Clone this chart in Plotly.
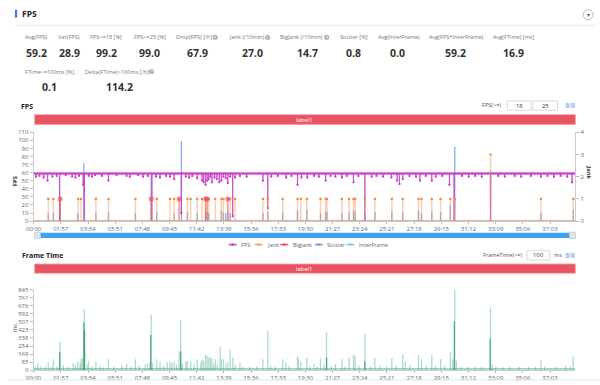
import plotly.graph_objects as go

W, H = 600, 385
FONT = "Open Sans"

# ---------------- data ----------------
DURATION = 2332          # seconds covered by the time axis
FPS_BASE = 59            # steady FPS level between dips
FT_AVG = 16.9            # Avg(FTime) [ms] – the dense baseline of frame times

metric_labels_row1 = ["Avg(FPS)", "Var(FPS)", "FPS>=18 [%]", "FPS>=25 [%]", "Drop(FPS) [/h]",
                      "Jank (/10min)", "BigJank (/10min)", "Stutter [%]", "Avg(InterFrame)",
                      "Avg(FPS+InterFrame)", "Avg(FTime) [ms]"]
metric_values_row1 = ["59.2", "28.9", "99.2", "99.0", "67.9", "27.0", "14.7", "0.8", "0.0", "59.2", "16.9"]
metric_labels_row2 = ["FTime>=100ms [%]", "Delta(FTime)>100ms [/h]"]
metric_values_row2 = ["0.1", "114.2"]

time_tick_secs = [0, 117, 234, 351, 468, 585, 702, 819, 936, 1053, 1170, 1287, 1404, 1521, 1638,
                  1755, 1872, 1989, 2106, 2223]
time_tick_labels = ["00:00", "01:57", "03:54", "05:51", "07:48", "09:45", "11:42", "13:39", "15:36",
                    "17:33", "19:30", "21:27", "23:24", "25:21", "27:18", "29:15", "31:12", "33:09",
                    "35:06", "37:03"]
fps_ticks = [0, 10, 20, 30, 40, 50, 60, 70, 80, 90, 100, 110]
jank_ticks = [0, 1, 2, 3, 4]
ft_tick_vals = [0, 84.5, 169, 253.5, 338, 422.5, 507, 591.5, 676, 760.5, 845]
ft_tick_text = ["0", "85", "169", "254", "338", "423", "507", "592", "676", "761", "845"]

fps_dip_t = [10, 25, 43, 60, 81, 99, 112, 138, 166, 180, 195, 213, 218, 237, 251, 265, 294, 322, 357,
             400, 414, 449, 471, 492, 509, 527, 544, 570, 587, 605, 636, 655, 669, 683, 704, 725, 732,
             740, 747, 754, 761, 768, 779, 789, 799, 808, 817, 827, 836, 846, 857, 867, 888, 917, 987,
             1008, 1023, 1051, 1087, 1110, 1136, 1153, 1178, 1207, 1228, 1257, 1278, 1299, 1327, 1348,
             1377, 1398, 1426, 1455, 1476, 1504, 1540, 1565, 1575, 1589, 1618, 1646, 1663, 1688, 1714,
             1731, 1759, 1790, 1810, 1844, 1873, 1901, 1929, 1967, 2000, 2028, 2071, 2099, 2141, 2184,
             2212, 2240, 2269, 2297, 2318]
fps_dip_v = [55, 56, 54, 50, 55, 56, 0, 57, 55, 54, 56, 45, 0, 56, 55, 57, 56, 50, 57,
             56, 55, 57, 55, 56, 0, 55, 54, 56, 55, 52, 10, 55, 54, 56, 53, 50, 48,
             45, 50, 52, 55, 48, 54, 52, 48, 50, 55, 53, 47, 55, 6, 54, 56, 55, 50,
             16, 55, 56, 54, 56, 45, 54, 54, 56, 55, 50, 56, 55, 54, 56,
             48, 56, 0, 55, 56, 55, 54, 50, 46, 52, 56, 55, 50, 56, 50,
             55, 56, 45, 0, 56, 55, 56, 55, 0, 56, 55, 56, 55, 56, 55,
             56, 55, 56, 55, 48]

jank_t = [63, 85, 114, 192, 204, 268, 322, 438, 506, 530, 587, 605, 626, 662, 676, 704, 725, 740, 747,
          754, 782, 808, 817, 836, 846, 867, 987, 1008, 1072, 1136, 1150, 1176, 1235, 1257, 1263, 1327,
          1358, 1377, 1384, 1426, 1469, 1542, 1589, 1657, 1670, 1714, 1752, 1794, 1813, 1967, 2184, 2323]
jank_v = [1] * 49 + [3, 1, 1]

bigjank_t = [114, 506, 626, 740, 747, 836]
bigjank_v = [1, 1, 1, 1, 1, 1]

stutter_t = [63, 85, 114, 190, 216, 268, 322, 438, 506, 530, 605, 636, 662, 704, 740, 747, 754, 808,
             817, 827, 836, 846, 987, 1008, 1072, 1136, 1176, 1235, 1257, 1263, 1327, 1358, 1377, 1384,
             1426, 1469, 1542, 1589, 1657, 1670, 1714, 1752, 1794, 1813, 1967, 2184, 2323]
stutter_v = [10, 11, 22, 10, 72, 10, 11, 10, 57, 11, 10, 99, 11, 10, 12, 11, 10, 13,
             11, 10, 12, 10, 10, 12, 11, 13, 14, 10, 12, 11, 10, 11, 13, 12,
             10, 11, 12, 11, 13, 10, 12, 11, 20, 92, 63, 10, 14]

ft_t = [8, 18, 32, 50, 63, 75, 85, 100, 114, 128, 150, 170, 180, 190, 200, 204, 210, 218, 230, 237,
        250, 268, 285, 300, 322, 345, 380, 400, 420, 438, 455, 480, 490, 500, 506, 512, 530, 544, 560,
        575, 587, 595, 605, 615, 626, 633, 640, 655, 662, 676, 690, 704, 720, 725, 732, 740, 747, 754,
        761, 768, 775, 782, 790, 803, 808, 817, 827, 836, 846, 857, 867, 888, 900, 930, 960, 987, 1008,
        1020, 1040, 1072, 1085, 1100, 1136, 1140, 1150, 1176, 1190, 1207, 1220, 1235, 1250, 1261, 1280,
        1299, 1327, 1340, 1358, 1377, 1384, 1400, 1426, 1450, 1469, 1490, 1520, 1542, 1560, 1589, 1600,
        1620, 1657, 1670, 1690, 1714, 1730, 1752, 1770, 1794, 1805, 1813, 1820, 1840, 1870, 1900, 1930,
        1967, 1975, 1990, 2020, 2050, 2090, 2130, 2160, 2184, 2200, 2250, 2290, 2310, 2323]
ft_v = [45, 72, 40, 38, 82, 40, 116, 45, 298, 55, 35, 75, 60, 92, 70, 118, 133, 640, 60, 97,
        40, 90, 45, 35, 116, 40, 51, 69, 40, 116, 45, 60, 70, 90, 578, 80, 116, 92, 50,
        90, 90, 75, 90, 60, 195, 527, 70, 95, 100, 92, 60, 116, 80, 110, 100, 161, 150, 133,
        130, 120, 60, 116, 70, 246, 116, 116, 70, 90, 212, 133, 60, 82, 40, 35, 40, 116, 411,
        50, 40, 116, 82, 45, 150, 120, 90, 133, 40, 65, 40, 120, 60, 400, 50,
        65, 116, 40, 133, 161, 150, 50, 383, 40, 127, 45, 40, 127, 50, 161, 90,
        50, 161, 120, 45, 161, 50, 116, 50, 195, 120, 845, 100, 40, 35, 40, 35,
        657, 60, 40, 35, 40, 35, 40, 35, 103, 40, 35, 50, 40, 150]
ft_core_t = [112, 216, 219, 504, 633, 1261, 1426, 1811, 1965]
ft_core_v = [195, 503, 420, 370, 200, 133, 92, 513, 332]


# ---------------- helpers ----------------
def px(x):
    return x / W


def py(y):
    return 1 - y / H


def spikes(ts, vs, base=0):
    xs, ys = [], []
    for t, v in zip(ts, vs):
        xs += [t, t, None]
        ys += [base, v, None]
    return xs, ys


def dip_line(ts, vs, base, end):
    xs, ys = [0], [base]
    for t, v in zip(ts, vs):
        xs += [t - 1, t, t + 1]
        ys += [base, v, base]
    xs.append(end)
    ys.append(base)
    return xs, ys


fig = go.Figure()

C_FPS = "#c93ec7"
C_JANK = "#f7a060"
C_BIG = "#ee4b55"
C_STUT = "#6f9cec"
C_INTER = "#5fd3f0"

# ---------------- FPS chart ----------------
sx, sy = spikes(stutter_t, stutter_v)
fig.add_trace(go.Scatter(x=sx, y=sy, mode="lines", xaxis="x", yaxis="y",
                         line=dict(color="rgba(90,135,230,0.7)", width=1.3), hoverinfo="skip"))
jx, jy = spikes(jank_t, jank_v)
fig.add_trace(go.Scatter(x=jx, y=jy, mode="lines", xaxis="x", yaxis="y2",
                         line=dict(color="rgba(247,160,96,0.5)", width=1.5), hoverinfo="skip"))
fig.add_trace(go.Scatter(x=jank_t, y=jank_v, mode="markers", xaxis="x", yaxis="y2",
                         marker=dict(color="#f5893a", size=2.2, symbol="square"), hoverinfo="skip"))
bx, by = spikes(bigjank_t, bigjank_v)
fig.add_trace(go.Scatter(x=bx, y=by, mode="lines", xaxis="x", yaxis="y2",
                         line=dict(color="rgba(238,75,85,0.5)", width=1.2), hoverinfo="skip"))
fig.add_trace(go.Scatter(x=bigjank_t, y=bigjank_v, mode="markers", xaxis="x", yaxis="y2",
                         marker=dict(color="rgba(238,75,85,0.55)", size=4.5,
                                     line=dict(color="rgba(238,75,85,0.25)", width=1.5)),
                         hoverinfo="skip"))
# zero level of the jank / bigjank series
fig.add_trace(go.Scatter(x=[0, DURATION], y=[0, 0], mode="lines", xaxis="x", yaxis="y2",
                         line=dict(color="#c99a78", width=1.6), hoverinfo="skip"))
# steady FPS band
fig.add_trace(go.Scatter(x=[0, DURATION], y=[FPS_BASE, FPS_BASE], mode="lines", xaxis="x", yaxis="y",
                         line=dict(color="rgba(201,62,199,0.85)", width=2.4), hoverinfo="skip"))
fx, fy = dip_line(fps_dip_t, fps_dip_v, FPS_BASE, DURATION)
fig.add_trace(go.Scatter(x=fx, y=fy, mode="lines", xaxis="x", yaxis="y",
                         line=dict(color="rgba(201,62,199,0.8)", width=1.0), hoverinfo="skip"))
fig.add_trace(go.Scatter(x=fps_dip_t, y=fps_dip_v, mode="markers", xaxis="x", yaxis="y",
                         marker=dict(color=C_FPS, size=2.3), hoverinfo="skip"))

# ---------------- Frame time chart ----------------
fig.add_trace(go.Scatter(x=[0, DURATION], y=[FT_AVG, FT_AVG], mode="lines", fill="tozeroy",
                         xaxis="x2", yaxis="y3", line=dict(color="rgba(40,160,110,0.5)", width=0.8),
                         fillcolor="rgba(40,160,110,0.3)", hoverinfo="skip"))
tx, ty = spikes(ft_t, ft_v)
fig.add_trace(go.Scatter(x=tx, y=ty, mode="lines", xaxis="x2", yaxis="y3",
                         line=dict(color="rgba(60,175,125,0.42)", width=1.3), hoverinfo="skip"))
cx, cy = spikes(ft_core_t, ft_core_v)
fig.add_trace(go.Scatter(x=cx, y=cy, mode="lines", xaxis="x2", yaxis="y3",
                         line=dict(color="rgba(35,145,95,0.7)", width=1.3), hoverinfo="skip"))

axis_font = dict(family=FONT, size=6, color="#666")
common_x = dict(range=[0, DURATION], tickvals=time_tick_secs, ticktext=time_tick_labels,
                ticks="outside", ticklen=2, tickcolor="#bbb", tickfont=axis_font,
                showline=True, linecolor="#ccc", linewidth=1, showgrid=False, zeroline=False,
                domain=[px(26), px(575)], fixedrange=True)
common_y = dict(ticks="outside", ticklen=3, tickcolor="#bbb", tickfont=axis_font,
                showline=True, linecolor="#ccc", linewidth=1, showgrid=False, zeroline=False,
                fixedrange=True)

fig.update_layout(
    width=W, height=H, margin=dict(l=0, r=0, t=0, b=0),
    paper_bgcolor="white", plot_bgcolor="white", showlegend=False,
    font=dict(family=FONT),
    xaxis=dict(anchor="y", **common_x),
    yaxis=dict(domain=[py(221.7), py(131)], range=[0, 110], tickvals=fps_ticks, anchor="x", **common_y),
    yaxis2=dict(domain=[py(221.7), py(131)], range=[0, 4], tickvals=jank_ticks, overlaying="y",
                side="right", anchor="x", **common_y),
    xaxis2=dict(anchor="y3", **common_x),
    yaxis3=dict(domain=[py(374), py(291.7)], range=[0, 845], tickvals=ft_tick_vals,
                ticktext=ft_tick_text, anchor="x2", **common_y),
)

shapes = []
ann = []


def rect(x0, y0, x1, y1, fill="rgba(0,0,0,0)", line=None, lw=0):
    shapes.append(dict(type="rect", xref="paper", yref="paper", x0=px(x0), x1=px(x1),
                       y0=py(y1), y1=py(y0), fillcolor=fill,
                       line=dict(color=line or "rgba(0,0,0,0)", width=lw), layer="above"))


def hline(x0, x1, y, color, lw=1):
    shapes.append(dict(type="line", xref="paper", yref="paper", x0=px(x0), x1=px(x1),
                       y0=py(y), y1=py(y), line=dict(color=color, width=lw)))


def circle(cx_, cy_, r, fill, line=None, lw=0):
    shapes.append(dict(type="circle", xref="paper", yref="paper", x0=px(cx_ - r), x1=px(cx_ + r),
                       y0=py(cy_ + r), y1=py(cy_ - r), fillcolor=fill,
                       line=dict(color=line or "rgba(0,0,0,0)", width=lw)))


def text(x, y, s, size=6, color="#666", anchor="center", bold=False, angle=0, family=FONT):
    if bold:
        s = "<b>" + s + "</b>"
    ann.append(dict(x=px(x), y=py(y), xref="paper", yref="paper", text=s, showarrow=False,
                    xanchor=anchor, yanchor="middle", textangle=angle,
                    font=dict(family=family, size=size, color=color)))


# header
rect(7, 6, 9.3, 14, fill="#3b7cf3")
text(12, 10, "FPS", size=8.5, color="#222", anchor="left", bold=True)
hline(7, 596, 22, "#ececec", 1)
circle(588, 11, 5, "white", "#aaa", 0.8)
text(588, 11.3, "▾", size=6, color="#666")
hline(0, 600, 384, "#e6e6e6", 1)

# metrics
lab_x1 = [28.7, 61.5, 99.5, 144, 189, 242, 297.5, 351, 396.5, 454.5, 512.5]
val_x1 = [28.5, 62, 99.5, 143.5, 192.5, 247.5, 304, 350.5, 395, 454, 512.5]
for s, x in zip(metric_labels_row1, lab_x1):
    text(x, 34, s, size=5.6, color="#777")
for s, x in zip(metric_values_row1, val_x1):
    text(x, 50, s, size=10.5, color="#333", bold=True)
lab_x2 = [42.5, 110]
val_x2 = [42, 113.5]
for s, x in zip(metric_labels_row2, lab_x2):
    text(x, 69, s, size=5.6, color="#777")
for s, x in zip(metric_values_row2, val_x2):
    text(x, 84.5, s, size=10.5, color="#333", bold=True)
for (ix, iy) in [(210, 34), (263, 34), (323, 34), (145.5, 69)]:
    circle(ix, iy, 2.6, "#a9afbb")
    text(ix, iy + 0.2, "?", size=4, color="white", bold=True)

# FPS section
text(11, 104.5, "FPS", size=7, color="#222", anchor="left", bold=True)
text(502, 103.5, "FPS(>=)", size=5.6, color="#555", anchor="right")
rect(506, 99, 530, 108.5, fill="white", line="#cfcfcf", lw=0.8)
rect(532, 99, 557, 108.5, fill="white", line="#cfcfcf", lw=0.8)
text(518, 103.8, "18", size=5.8, color="#333")
text(544.5, 103.8, "25", size=5.8, color="#333")
text(570, 103.5, "查询", size=5, color="#4b7bec", family="Noto Sans CJK SC")
rect(27, 113, 575, 123, fill="#ea5462", line="#f3a0a6", lw=0.8)
text(300, 118, "label1", size=5.8, color="white")
text(7, 181, "FPS", size=5.8, color="#333", bold=True, angle=-90)
text(588, 172, "Jank", size=5.8, color="#333", bold=True, angle=90)

# data-zoom slider
rect(33, 233.5, 569, 239, fill="#3aa3f3")
rect(27, 233, 33, 239.5, fill="#e4e4e4", line="#bbb", lw=0.6)
rect(569, 233, 575, 239.5, fill="#e4e4e4", line="#bbb", lw=0.6)

# legend
legend_items = [("FPS", C_FPS, 227.7), ("Jank", C_JANK, 254), ("BigJank", C_BIG, 280),
                ("Stutter", C_STUT, 315), ("InterFrame", C_INTER, 347)]
for name, col, ix in legend_items:
    shapes.append(dict(type="line", xref="paper", yref="paper", x0=px(ix - 4), x1=px(ix + 4),
                       y0=py(245.7), y1=py(245.7), line=dict(color=col, width=1.5)))
    circle(ix, 245.7, 1.3, col)
    text(ix + 6.5, 245.7, name, size=5.6, color="#666", anchor="left")

# Frame time section
text(12, 256.5, "Frame Time", size=7, color="#222", anchor="left", bold=True)
text(523, 256.5, "FrameTime(>=)", size=5.6, color="#555", anchor="right")
rect(526, 252, 549, 261.5, fill="white", line="#cfcfcf", lw=0.8)
text(537.5, 256.8, "100", size=5.8, color="#333")
text(557.5, 256.5, "ms", size=5.6, color="#555")
text(570, 256.5, "查询", size=5, color="#4b7bec", family="Noto Sans CJK SC")
rect(27, 265.5, 575, 275, fill="#ea5462", line="#f3a0a6", lw=0.8)
text(300, 270.3, "label1", size=5.8, color="white")
text(7, 331, "ms", size=5.6, color="#333", angle=-90)

fig.update_layout(shapes=shapes, annotations=ann)
fig.write_html("out.html", config={"displayModeBar": False},
               post_script="document.body.style.margin='0';document.body.style.padding='0';"
                           "document.body.style.overflow='hidden';")
